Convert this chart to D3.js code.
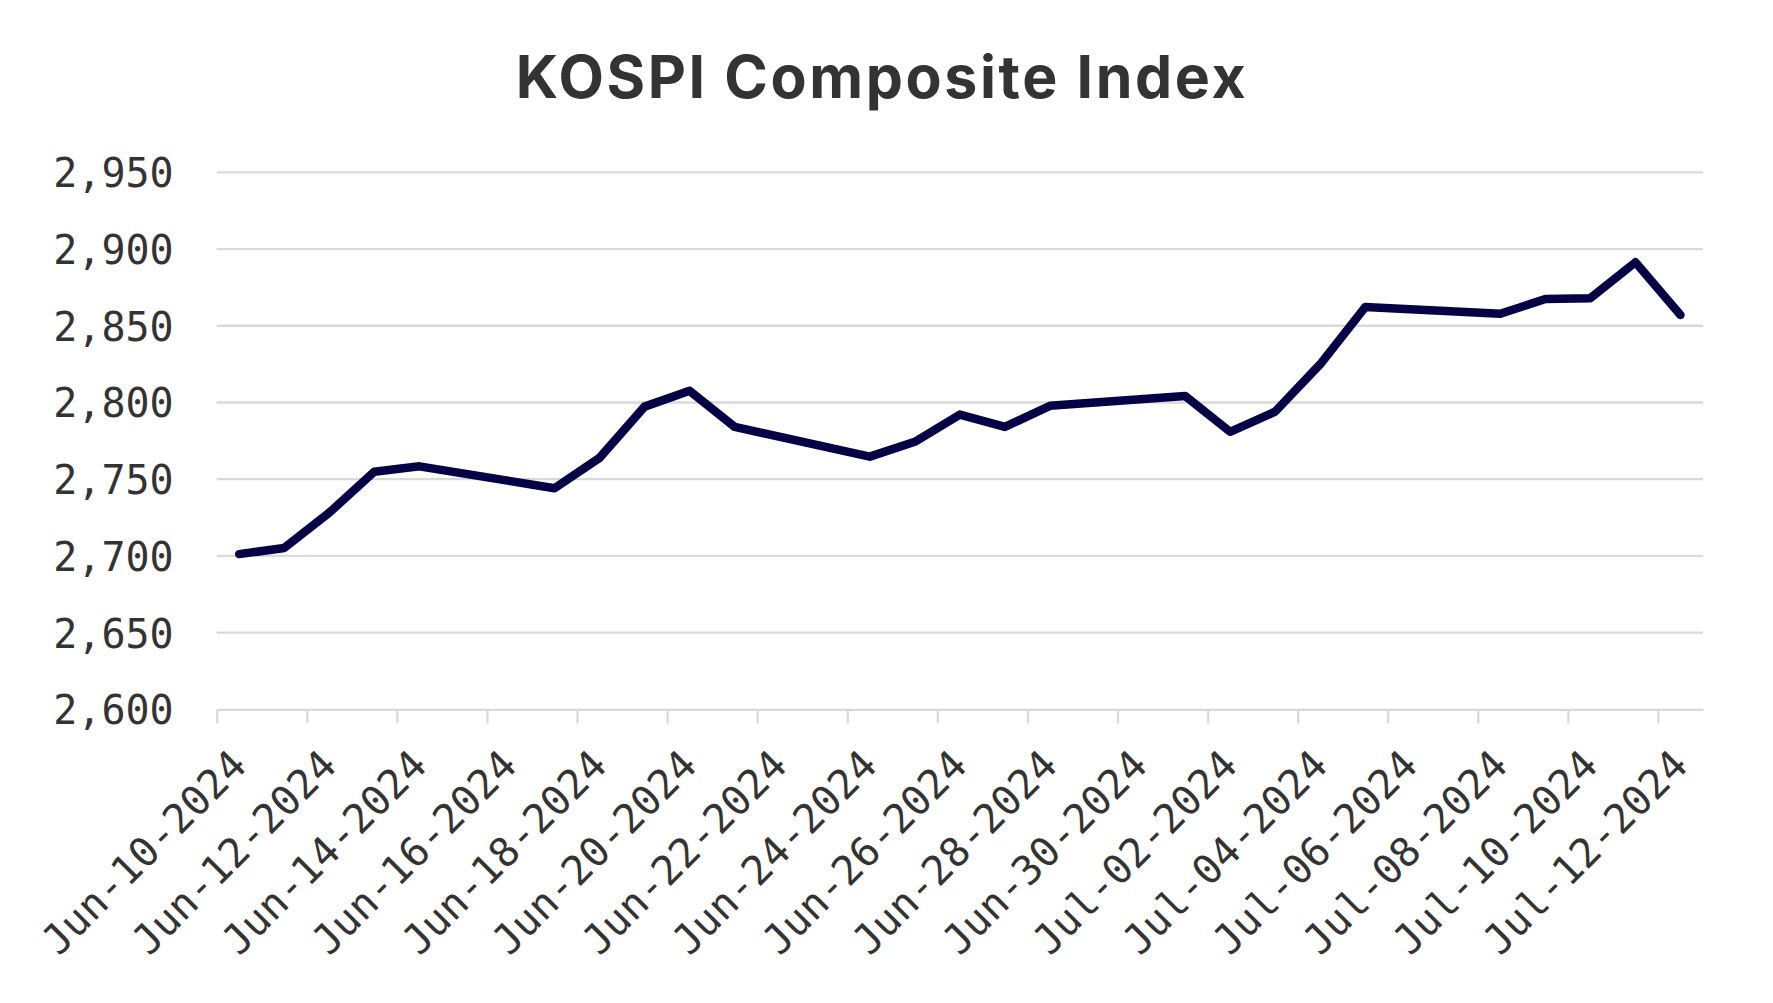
<!DOCTYPE html>
<html>
<head>
<meta charset="utf-8">
<script src="https://cdn.jsdelivr.net/npm/d3@7"></script>
<style>
  body { margin: 0; background: #fff; }
</style>
</head>
<body>
<svg id="chart"></svg>
<script>
// KOSPI daily closes (trading days only)
const dates = [
    "2024-06-10", "2024-06-11", "2024-06-12", "2024-06-13", "2024-06-14",
    "2024-06-17", "2024-06-18", "2024-06-19", "2024-06-20", "2024-06-21",
    "2024-06-24", "2024-06-25", "2024-06-26", "2024-06-27", "2024-06-28",
    "2024-07-01", "2024-07-02", "2024-07-03", "2024-07-04", "2024-07-05",
    "2024-07-08", "2024-07-09", "2024-07-10", "2024-07-11", "2024-07-12"
];
const closes = [
    2701.2, 2705.2, 2728.2, 2754.9, 2758.4,
    2744.1, 2763.9, 2797.3, 2807.6, 2784.1,
    2764.7, 2774.4, 2792.1, 2784.1, 2797.8,
    2804.3, 2780.9, 2794.0, 2824.9, 2862.2,
    2857.8, 2867.4, 2868.0, 2891.4, 2857.0
];
const yTicks = [2600, 2650, 2700, 2750, 2800, 2850, 2900, 2950];
const xStart = "2024-06-10", xEnd = "2024-07-13";

const W = 1773, H = 1003;
const plot = { left: 216.7, right: 1703, top: 172.3, bottom: 709.4 };
const parse = d3.timeParse("%Y-%m-%d");

const data = dates.map((d, i) => ({ date: d3.timeHour.offset(parse(d), 12), value: closes[i] }));

const svg = d3.select("#chart")
    .attr("width", W)
    .attr("height", H);

const x = d3.scaleTime()
    .domain([parse(xStart), parse(xEnd)])
    .range([plot.left, plot.right]);

const y = d3.scaleLinear()
    .domain([2600, 2950])
    .range([plot.bottom, plot.top]);

const halfDay = (x(parse("2024-06-11")) - x(parse("2024-06-10"))) / 2;

// gridlines
svg.append("g")
    .selectAll("line")
    .data(yTicks.filter(t => t > 2600))
    .enter().append("line")
    .attr("x1", plot.left)
    .attr("x2", plot.right)
    .attr("y1", d => y(d))
    .attr("y2", d => y(d))
    .attr("stroke", "#d9d9d9")
    .attr("stroke-width", 2.3);

// y axis labels
const yAxis = svg.append("g")
    .attr("transform", `translate(${plot.left},0)`)
    .call(d3.axisLeft(y).tickValues(yTicks).tickSize(0).tickPadding(43).tickFormat(d3.format(",")));
yAxis.select(".domain").remove();
yAxis.selectAll("text")
    .attr("dy", "0.36em")
    .style("font-family", "'DejaVu Sans Mono', monospace")
    .style("font-size", "40px")
    .style("fill", "#333");

// x axis: tick every 2 days, label centred on the day
const xTickVals = d3.timeDay.range(parse(xStart), parse(xEnd), 2);
const xAxis = svg.append("g")
    .attr("transform", `translate(0,${plot.bottom})`)
    .call(d3.axisBottom(x).tickValues(xTickVals).tickSizeInner(14).tickSizeOuter(0)
        .tickFormat(d3.timeFormat("%b-%d-%Y")));
xAxis.select(".domain")
    .attr("stroke", "#d9d9d9")
    .attr("stroke-width", 2.3);
xAxis.selectAll(".tick line")
    .attr("stroke", "#d9d9d9")
    .attr("stroke-width", 2.3);
xAxis.selectAll("text")
    .attr("y", null)
    .attr("dy", null)
    .attr("transform", `translate(${halfDay + 9},58) rotate(-45)`)
    .style("text-anchor", "end")
    .style("font-family", "'DejaVu Sans Mono', monospace")
    .style("font-size", "40.5px")
    .style("fill", "#333");

// line
svg.append("path")
    .datum(data)
    .attr("fill", "none")
    .attr("stroke", "#050046")
    .attr("stroke-width", 8.5)
    .attr("stroke-linejoin", "round")
    .attr("stroke-linecap", "round")
    .attr("d", d3.line().x(d => x(d.date)).y(d => y(d.value)));

// title
svg.append("text")
    .attr("x", 882)
    .attr("y", 98.3)
    .attr("text-anchor", "middle")
    .style("font-family", "Inter, sans-serif")
    .style("font-weight", "bold")
    .style("font-size", "59px")
    .style("letter-spacing", "2.6px")
    .style("fill", "#333")
    .text("KOSPI Composite Index");
</script>
</body>
</html>
